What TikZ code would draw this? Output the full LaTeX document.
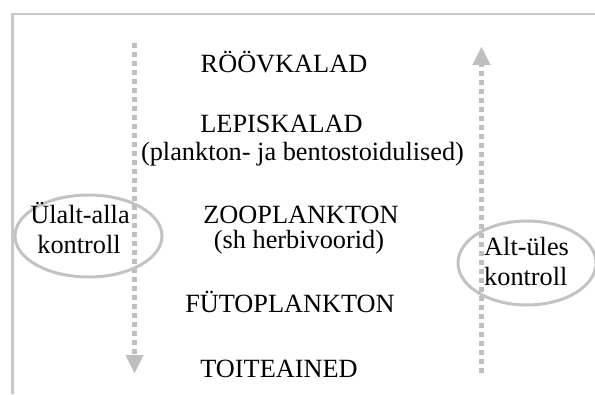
\documentclass[tikz,border=0pt]{standalone}
\usepackage{fontspec}
\setmainfont{Liberation Serif}
\usetikzlibrary{arrows.meta}

\definecolor{framegray}{RGB}{200,200,200}
\definecolor{flowgray}{RGB}{190,190,190}
\definecolor{ringgray}{RGB}{195,195,195}

\begin{document}
\begin{tikzpicture}[x=1pt, y=-1pt,
  lvl/.style={anchor=base, inner sep=0pt, font=\fontsize{26.3}{30}\selectfont},
  flow/.style={flowgray, line width=5.5pt, dash pattern=on 5pt off 4pt,
    -{Triangle[width=18pt, length=18pt, line width=0.1pt]}},
  ring/.style={ringgray, line width=3pt}]

  \useasboundingbox (0,0) rectangle (595,394);

  % frame: only the top and the left side show
  \draw[framegray, line width=2.5pt] (12.5,394) -- (12.5,14) -- (595,14);

  % control directions, down on the left and up on the right
  \coordinate (downtop) at (134.5,43);
  \coordinate (downtip) at (134.5,373);
  \draw[flow] (downtop) -- (downtip);
  \coordinate (upbot) at (481.5,373);
  \coordinate (uptip) at (481.5,47);
  \draw[flow] (upbot) -- (uptip);

  % the two rings round the side labels
  \draw[ring] (88.5,236) ellipse [x radius=73.5, y radius=41];
  \draw[ring] (527,263) ellipse [x radius=69, y radius=42];
  \node[lvl] (topdown1) at (80,223) {Ülalt-alla};
  \node[lvl] (topdown2) at (79,253) {kontroll};
  \node[lvl, anchor=base west] (botup1) at (484,255) {Alt-üles};
  \node[lvl, anchor=base west] (botup2) at (484,285) {kontroll};

  % trophic levels, top to bottom
  \node[lvl] (roov) at (284,72) {RÖÖVKALAD};
  \node[lvl] (lepis) at (281.5,132) {LEPISKALAD};
  \node[lvl] (lepisnote) at (302.5,160) {(plankton- ja bentostoidulised)};
  \node[lvl] (zoo) at (301,223) {ZOOPLANKTON};
  \node[lvl] (zoonote) at (299,248) {(sh herbivoorid)};
  \node[lvl] (fyto) at (290,312) {FÜTOPLANKTON};
  \node[lvl] (toit) at (279,377) {TOITEAINED};

\end{tikzpicture}
\end{document}
